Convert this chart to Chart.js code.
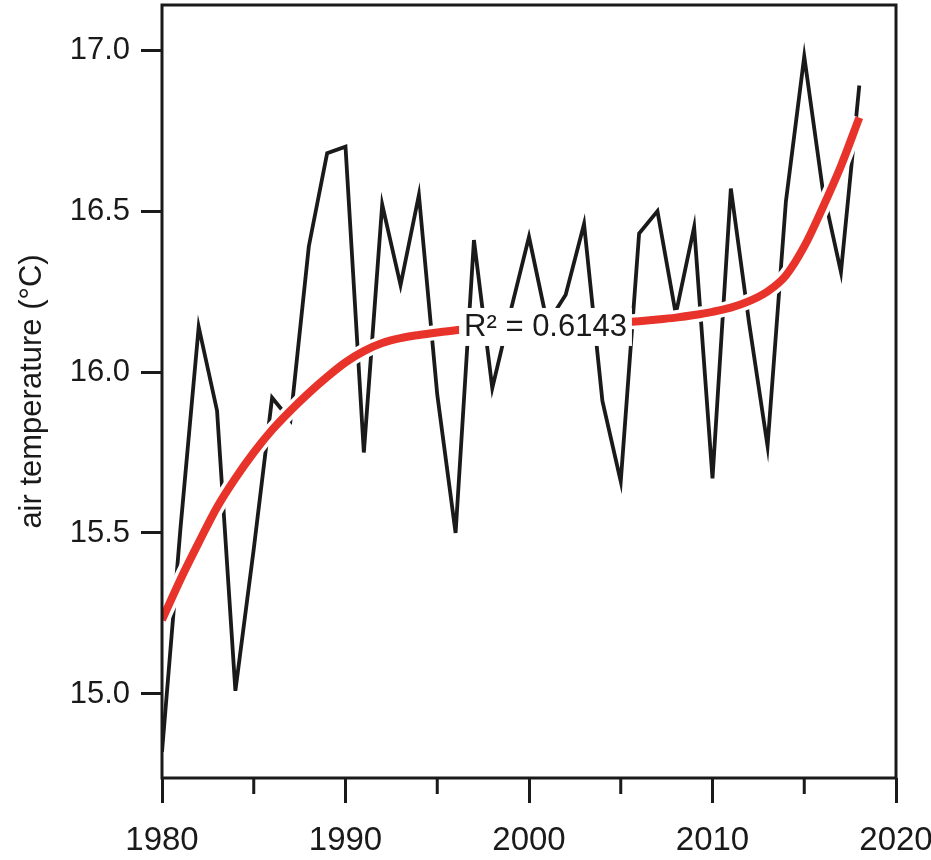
<!DOCTYPE html>
<html>
<head>
<meta charset="utf-8">
<script src="https://cdn.jsdelivr.net/npm/chart.js@4.4.1/dist/chart.umd.min.js"></script>
<style>
  html, body { margin: 0; padding: 0; background: #fff; }
  #wrap { width: 931px; height: 860px; }
</style>
</head>
<body>
<div id="wrap"><canvas id="tempChart"></canvas></div>
<script>
/* ---------- data ---------- */

const years = [
  1980, 1981, 1982, 1983, 1984, 1985, 1986, 1987, 1988, 1989,
  1990, 1991, 1992, 1993, 1994, 1995, 1996, 1997, 1998, 1999,
  2000, 2001, 2002, 2003, 2004, 2005, 2006, 2007, 2008, 2009,
  2010, 2011, 2012, 2013, 2014, 2015, 2016, 2017, 2018
];

// annual mean air temperature (°C)
const airTemp = [
  14.82, 15.51, 16.14, 15.88, 15.01, 15.45, 15.92, 15.85, 16.39, 16.68,
  16.70, 15.75, 16.52, 16.27, 16.55, 15.93, 15.50, 16.41, 15.95, 16.19,
  16.42, 16.15, 16.24, 16.46, 15.91, 15.66, 16.43, 16.50, 16.18, 16.45,
  15.67, 16.57, 16.15, 15.77, 16.53, 16.98, 16.57, 16.31, 16.89
];

// polynomial trend line
const trendFit = [
  15.23, 15.355, 15.47, 15.58, 15.67, 15.75, 15.82, 15.88, 15.935, 15.985,
  16.03, 16.065, 16.09, 16.105, 16.115, 16.123, 16.13, 16.135, 16.138, 16.14,
  16.142, 16.144, 16.146, 16.148, 16.151, 16.154, 16.158, 16.163, 16.169, 16.177,
  16.187, 16.20, 16.22, 16.25, 16.30, 16.39, 16.51, 16.64, 16.79
];

const yearTicks = [1980, 1990, 2000, 2010, 2020];
const minorYearTicks = [1985, 1995, 2005, 2015];
const tempTicks = [15.0, 15.5, 16.0, 16.5, 17.0];

const fitLabel = "R\u00B2 = 0.6143";
const fitLabelAt = { year: 2000.9, temp: 16.14 };

/* ---------- styles ---------- */

const ink = "#1a1a1a";
const trendRed = "#e8332a";
const sansFont = '"Liberation Sans Narrow", "Liberation Sans", Arial, sans-serif';

/* ---------- frame, minor ticks, R² note ---------- */

const frameAndNotes = {
  id: "frameAndNotes",
  afterDatasetsDraw(chart) {
    const { ctx, scales: { x, y } } = chart;
    ctx.save();
    ctx.font = "31px " + sansFont;
    const w = ctx.measureText(fitLabel).width;
    const cx = x.getPixelForValue(fitLabelAt.year);
    const cy = y.getPixelForValue(fitLabelAt.temp);
    ctx.fillStyle = "#fff";
    ctx.fillRect(cx - w / 2 - 5, cy - 19, w + 10, 38);
    ctx.fillStyle = ink;
    ctx.textAlign = "center";
    ctx.textBaseline = "middle";
    ctx.fillText(fitLabel, cx, cy + 1);
    ctx.restore();
  },
  afterDraw(chart) {
    const { ctx, chartArea: a, scales: { x } } = chart;
    ctx.save();
    ctx.strokeStyle = ink;
    ctx.lineWidth = 3;
    ctx.strokeRect(a.left, a.top, a.right - a.left, a.bottom - a.top);
    ctx.beginPath();
    minorYearTicks.forEach(v => {
      const px = x.getPixelForValue(v);
      ctx.moveTo(px, a.bottom);
      ctx.lineTo(px, a.bottom + 16);
    });
    ctx.stroke();
    ctx.restore();
  }
};

/* ---------- chart ---------- */

const ctx = document.getElementById("tempChart");

new Chart(ctx, {
  type: "line",
  data: {
    datasets: [
      {
        label: "trend",
        data: years.map((yr, i) => ({ x: yr, y: trendFit[i] })),
        borderColor: trendRed,
        borderWidth: 8,
        pointRadius: 0,
        cubicInterpolationMode: "monotone",
        order: 0
      },
      {
        label: "trend halo",
        data: years.map((yr, i) => ({ x: yr, y: trendFit[i] })),
        borderColor: "#ffffff",
        borderWidth: 15,
        pointRadius: 0,
        cubicInterpolationMode: "monotone",
        order: 1
      },
      {
        label: "air temperature",
        data: years.map((yr, i) => ({ x: yr, y: airTemp[i] })),
        borderColor: ink,
        borderWidth: 3.8,
        borderJoinStyle: "miter",
        pointRadius: 0,
        tension: 0,
        order: 2
      }
    ]
  },
  options: {
    responsive: true,
    maintainAspectRatio: false,
    animation: false,
    layout: { padding: { top: 5, right: 35, bottom: 0, left: 0 } },
    plugins: {
      legend: { display: false },
      tooltip: { enabled: false }
    },
    scales: {
      x: {
        type: "linear",
        min: 1980,
        max: 2020,
        afterBuildTicks: s => { s.ticks = yearTicks.map(v => ({ value: v })); },
        afterFit: s => {
          s.height = 82;
          s.paddingLeft = 0;
          s.paddingRight = 0;
        },
        border: { display: false },
        grid: {
          drawOnChartArea: false,
          tickLength: 25,
          lineWidth: 3,
          color: ink
        },
        ticks: {
          color: ink,
          padding: 18,
          maxRotation: 0,
          font: { family: sansFont, size: 33 },
          callback: v => String(v)
        }
      },
      y: {
        min: 14.739,
        max: 17.14,
        afterBuildTicks: s => { s.ticks = tempTicks.map(v => ({ value: v })); },
        afterFit: s => {
          s.width = 162;
          s.paddingTop = 0;
          s.paddingBottom = 0;
        },
        border: { display: false },
        grid: {
          drawOnChartArea: false,
          tickLength: 21,
          lineWidth: 3,
          color: ink
        },
        ticks: {
          color: ink,
          padding: 11,
          font: { family: sansFont, size: 31 },
          callback: v => Number(v).toFixed(1)
        },
        title: {
          display: true,
          text: "air temperature (\u00B0C)",
          color: ink,
          font: { family: '"Liberation Sans", Arial, sans-serif', size: 31 },
          padding: { top: 14, bottom: 0 }
        }
      }
    }
  },
  plugins: [frameAndNotes]
});
</script>
</body>
</html>
